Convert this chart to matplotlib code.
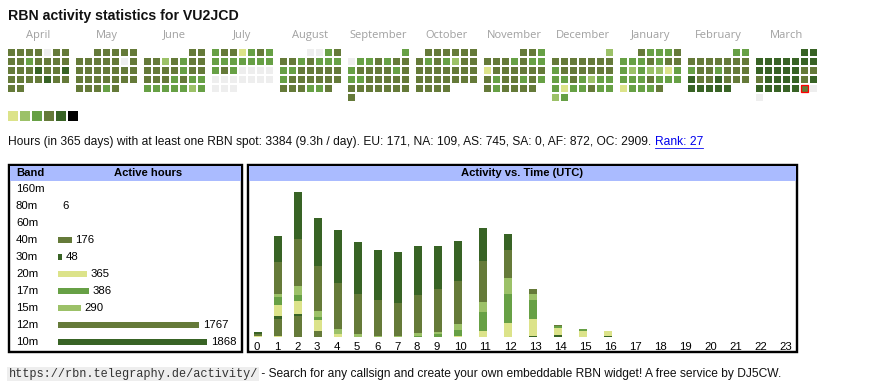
import calendar
import datetime as dt
import numpy as np
import matplotlib
matplotlib.use('Agg')
import matplotlib.pyplot as plt
from matplotlib.patches import Rectangle
from matplotlib.lines import Line2D

# ---------------- data ----------------
callsign = "VU2JCD"
months = [(2024, 4), (2024, 5), (2024, 6), (2024, 7), (2024, 8), (2024, 9),
          (2024, 10), (2024, 11), (2024, 12), (2025, 1), (2025, 2), (2025, 3)]
month_names = ["April", "May", "June", "July", "August", "September",
               "October", "November", "December", "January", "February", "March"]
# daily activity level per day (0 = none, 1..5)
lv_apr = "4444044" "4434444" "4445445" "4444544" "44"
lv_may = "44444" "4444404" "4444444" "4444444" "44434"
lv_jun = "44" "4424344" "4444344" "4443433" "3333323"
lv_jul = "3441343" "3333333" "3430000" "0000000" "000"
lv_aug = "0034" "4434333" "3344444" "3444444" "444334"
lv_sep = "3" "0334344" "3444434" "3344444" "4444444" "4"
lv_oct = "444444" "4343244" "4444444" "4444444" "4444"
lv_nov = "443" "4443433" "1444444" "4344343" "434444"
lv_dec = "2" "4444444" "3444444" "3343233" "3133433" "23"
lv_jan = "43334" "3334344" "3232213" "3334333" "13334"
lv_feb = "33" "4444444" "3443444" "5445444" "55555"
lv_mar = "55" "5555555" "5555544" "4555545" "5555540" "0"
levels = [lv_apr, lv_may, lv_jun, lv_jul, lv_aug, lv_sep,
          lv_oct, lv_nov, lv_dec, lv_jan, lv_feb, lv_mar]
today = dt.date(2025, 3, 29)

bands = ["160m", "80m", "60m", "40m", "30m", "20m", "17m", "15m", "12m", "10m"]
band_hours = [0, 6, 0, 176, 48, 365, 386, 290, 1767, 1868]

utc_hours = list(range(24))
# hours per band at each UTC hour (stacked bars)
h_80m = [3, 3, 0, 0, 0, 0, 0, 0, 0, 0, 0, 0, 0, 0, 0, 0, 0, 0, 0, 0, 0, 0, 0, 0]
h_40m = [8, 61, 78, 21, 0, 0, 0, 0, 0, 0, 0, 0, 0, 0, 0, 0, 0, 0, 0, 0, 0, 0, 0, 0]
h_30m = [0, 11, 5, 0, 0, 0, 0, 0, 0, 0, 0, 0, 0, 4, 7, 0, 4, 0, 0, 0, 0, 0, 0, 0]
h_20m = [0, 40, 48, 40, 11, 0, 0, 0, 0, 0, 4, 21, 50, 61, 25, 21, 17, 0, 0, 0, 0, 0, 0, 0]
h_17m = [0, 31, 22, 11, 0, 0, 0, 0, 4, 11, 22, 70, 107, 70, 7, 7, 0, 0, 0, 0, 0, 0, 0, 0]
h_15m = [0, 10, 33, 22, 17, 11, 4, 4, 11, 7, 22, 37, 59, 22, 0, 0, 0, 0, 0, 0, 0, 0, 0, 0]
h_12m = [0, 118, 173, 166, 169, 146, 131, 120, 140, 158, 158, 151, 103, 18, 4, 0, 0, 0, 0, 0, 0, 0, 0, 0]
h_10m = [7, 96, 173, 177, 195, 191, 184, 188, 180, 158, 147, 121, 59, 0, 0, 0, 0, 0, 0, 0, 0, 0, 0, 0]

info_text = ("Hours (in 365 days) with at least one RBN spot: 3384 (9.3h / day). "
             "EU: 171, NA: 109, AS: 745, SA: 0, AF: 872, OC: 2909. ")
rank_text = "Rank: 27"
url_text = "https://rbn.telegraphy.de/activity/"
footer_text = " - Search for any callsign and create your own embeddable RBN widget! A free service by DJ5CW."

# ---------------- style ----------------
C_YEL = '#dce38a'
C_LGR = '#9cc168'
C_GRN = '#67a045'
C_OLV = '#657a39'
C_DRK = '#386325'
C_GRY = '#eeeeee'
level_colors = [C_GRY, C_YEL, C_LGR, C_GRN, C_OLV, C_DRK, '#000000']
band_colors = {"160m": C_YEL, "80m": C_YEL, "60m": C_YEL, "40m": C_OLV, "30m": C_DRK,
               "20m": C_YEL, "17m": C_GRN, "15m": C_LGR, "12m": C_OLV, "10m": C_DRK}
HEAD_BLUE = '#aabbff'
SANS = ['Liberation Sans', 'DejaVu Sans']

W, H = 870, 390
fig = plt.figure(figsize=(W / 100, H / 100), dpi=100)
fig.patch.set_facecolor('white')


def px_axes(x0, y0, x1, y1, z=1):
    ax = fig.add_axes([x0 / W, 1 - y1 / H, (x1 - x0) / W, (y1 - y0) / H], zorder=z)
    ax.set_axis_off()
    ax.patch.set_alpha(0)
    return ax


PT = 72 / 100  # points per pixel

# overlay axes in pixel coordinates (for frames & text)
ov = px_axes(0, 0, W, H, z=0)
ov.set_xlim(0, W)
ov.set_ylim(H, 0)

ov.text(8, 20, f"RBN activity statistics for {callsign}", fontsize=10.2, fontweight='bold',
        family=SANS, va='baseline', ha='left', color='#111111')

# ---------------- calendar ----------------
PITCH = 9.0
CELL = 7.0 / PITCH
MONTH_STEP = 68 / PITCH
cal = px_axes(8, 49, 8 + 12 * 68, 49 + 6 * 9, z=2)
cal.set_xlim(0, 12 * 68 / PITCH)
cal.set_ylim(6, 0)
for m, ((yr, mo), name, lv) in enumerate(zip(months, month_names, levels)):
    first_wd = calendar.monthrange(yr, mo)[0]
    cal.text(m * MONTH_STEP + (7 * PITCH - 2) / 2 / PITCH, -1.55, name, ha='center', va='center',
             fontsize=8.0, family=['Open Sans', 'DejaVu Sans'], color='#a0a0a0', clip_on=False)
    for d, ch in enumerate(lv):
        idx = first_wd + d
        r, c = divmod(idx, 7)
        x = m * MONTH_STEP + c
        cal.add_patch(Rectangle((x, r), CELL, CELL, facecolor=level_colors[int(ch)],
                                edgecolor='none', clip_on=False))
        if dt.date(yr, mo, d + 1) == today:
            cal.add_patch(Rectangle((x + 0.04, r + 0.04), CELL - 0.08, CELL - 0.08,
                                    facecolor='none', edgecolor='#ff0000',
                                    linewidth=1.3 * PT, clip_on=False))

# colour legend
for k, col in enumerate(level_colors[1:]):
    ov.add_patch(Rectangle((8 + 12 * k, 111), 10, 10, facecolor=col, edgecolor='none'))

# ---------------- info line ----------------
t_info = ov.text(8, 142, info_text, fontsize=8.62, family=SANS, va='center', ha='left', color='#111111')
t_rank = ov.annotate(rank_text, xy=(1, 0.5), xycoords=t_info, va='center', ha='left',
                     fontsize=8.62, family=SANS, color='#0000ee')

# ---------------- boxes ----------------
BL = 2.4 * PT
ov.add_patch(Rectangle((9.2, 165.2), 233.0, 187.0, facecolor='none', edgecolor='black', linewidth=BL))
ov.add_patch(Rectangle((248.2, 165.2), 548.8, 187.0, facecolor='none', edgecolor='black', linewidth=BL))
ov.add_patch(Rectangle((10.4, 166.4), 230.6, 14.6, facecolor=HEAD_BLUE, edgecolor='none'))
ov.add_patch(Rectangle((249.4, 166.4), 546.4, 14.6, facecolor=HEAD_BLUE, edgecolor='none'))
ov.text(16, 173.5, "Band", fontsize=8.1, fontweight='bold', family=SANS, va='center', ha='left')
ov.text(148, 173.5, "Active hours", fontsize=8.1, fontweight='bold', family=SANS, va='center', ha='center')
ov.text(522, 173.5, "Activity vs. Time (UTC)", fontsize=8.1, fontweight='bold', family=SANS,
        va='center', ha='center')

# ---------------- band table ----------------
BAR0 = 58.0
SCALE_B = 0.08  # px per hour
bt = px_axes(10, 181, 243, 351, z=2)
bt.set_xlim(-(BAR0 - 10) / SCALE_B, (243 - BAR0) / SCALE_B)
ROW0, ROWP = 189.0, 17.0
bt.set_ylim((351 - ROW0) / ROWP, (181 - ROW0) / ROWP)
ypos = np.arange(len(bands))
bt.barh(ypos, band_hours, height=6.5 / ROWP, color=[band_colors[b] for b in bands], linewidth=0)
for i, (b, h) in enumerate(zip(bands, band_hours)):
    bt.text((16 - BAR0) / SCALE_B, i, b, fontsize=8.2, family=SANS, va='center', ha='left')
    if h > 0:
        bt.text(h + 3.4 / SCALE_B, i, str(h), fontsize=8.2, family=SANS, va='center', ha='left')

# ---------------- activity vs time ----------------
K = 3.68       # hours per pixel
BASE = 336.7   # baseline pixel row
at = px_axes(249, 181, 797, 351, z=2)
at.set_xlim(249, 797)
at.set_ylim(-(351 - BASE) * K, (BASE - 181) * K)
labels = [str(h) for h in utc_hours]
col_w = np.array([20 if len(s) == 1 else 25 for s in labels])
lefts = 254 + np.concatenate([[0], np.cumsum(col_w[:-1])])
stack = [("80m", h_80m), ("40m", h_40m), ("30m", h_30m), ("20m", h_20m), ("17m", h_17m),
         ("15m", h_15m), ("12m", h_12m), ("10m", h_10m)]
bottom = np.zeros(len(utc_hours))
for b, vals in stack:
    v = np.array(vals, dtype=float)
    at.bar(lefts, v, width=7.7, bottom=bottom, align='edge', color=band_colors[b], linewidth=0)
    bottom += v
for x, s in zip(lefts, labels):
    at.text(x, -(346.5 - BASE) * K, s, fontsize=8.2, family=SANS, va='center', ha='left')

# ---------------- footer ----------------
t_url = ov.text(8.5, 374, url_text, fontsize=8.55, family=['Liberation Mono', 'DejaVu Sans Mono'],
                va='center', ha='left', color='#333333',
                bbox=dict(facecolor='#eeeeee', edgecolor='none', pad=1.0))
ov.annotate(footer_text, xy=(1, 0.5), xycoords=t_url, va='center', ha='left',
            fontsize=8.68, family=SANS, color='#111111')

# underline for the link
fig.canvas.draw()
bb = t_rank.get_window_extent()
inv = ov.transData.inverted()
(x0, y0), (x1, y1) = inv.transform([(bb.x0, bb.y0), (bb.x1, bb.y0)])
ov.add_line(Line2D([x0, x1], [y0 - 0.5, y0 - 0.5], color='#0000ee', linewidth=0.8 * PT))

fig.savefig('out.png', dpi=100, facecolor='white')
